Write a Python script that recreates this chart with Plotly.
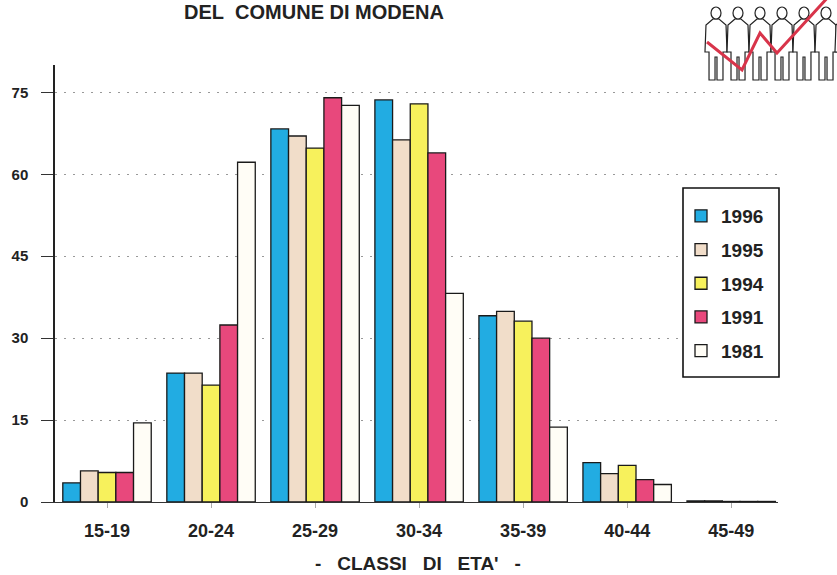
import plotly.graph_objects as go

# -- Dati (valori percentuali per classe di eta')
classi = ['15-19', '20-24', '25-29', '30-34', '35-39', '40-44', '45-49']
anni = ['1996', '1995', '1994', '1991', '1981']

v_1996 = [3.5, 23.6, 68.3, 73.6, 34.1, 7.2, 0.2]
v_1995 = [5.7, 23.6, 67.0, 66.3, 34.9, 5.2, 0.2]
v_1994 = [5.4, 21.4, 64.8, 72.9, 33.1, 6.7, 0.1]
v_1991 = [5.4, 32.4, 74.0, 63.9, 30.0, 4.1, 0.1]
v_1981 = [14.5, 62.2, 72.6, 38.2, 13.7, 3.2, 0.1]

serie = [v_1996, v_1995, v_1994, v_1991, v_1981]
colori = ['#22ACE2', '#F1DDC9', '#F7F15C', '#E8487C', '#FFFDF6']

ticks_y = [0, 15, 30, 45, 60, 75]

fuente = 'Liberation Sans, Arial, sans-serif'

W, H = 837, 575
# area del grafico in pixel: x 55-778, y 65-502
L, T = 55, 65
R, B = W - 778, H - 502
pw, ph = W - L - R, H - T - B


def px(x, y):
    # converte pixel della pagina in coordinate "paper"
    return (x - L) / pw, 1 - (y - T) / ph


def percorso(punti, chiuso=True):
    s = ''
    for i, (x, y) in enumerate(punti):
        a, b = px(x, y)
        s += ('M ' if i == 0 else ' L ') + f'{a:.4f},{b:.4f}'
    return s + (' Z' if chiuso else '')


fig = go.Figure()

for i, (anno, valori) in enumerate(zip(anni, serie)):
    fig.add_trace(go.Bar(x=classi, y=valori, name=anno,
                         marker=dict(color=colori[i], line=dict(color='#1a1a1a', width=1.3)),
                         legendgroup=anno))

tx, ty = px(314, 25)
ax_, ay_ = px(418, 563)
lx, ly = px(681, 197)

fig.update_layout(
    width=W, height=H,
    margin=dict(l=L, r=R, t=T, b=B),
    paper_bgcolor='white', plot_bgcolor='white',
    barmode='group', bargap=0.15, bargroupgap=0,
    font=dict(family=fuente, color='#222', size=13),
    showlegend=True,
    legend=dict(x=lx, y=ly, xanchor='left', yanchor='top',
                bgcolor='rgba(0,0,0,0)', borderwidth=0,
                font=dict(size=19, weight='bold', color='#222'),
                traceorder='grouped', tracegroupgap=6),
    annotations=[
        dict(text='DEL&nbsp;&nbsp;COMUNE DI MODENA', x=tx, y=ty,
             xref='paper', yref='paper', xanchor='center', yanchor='bottom', showarrow=False,
             font=dict(size=20, weight='bold', color='#222')),
        dict(text="-&nbsp;&nbsp;&nbsp;CLASSI&nbsp;&nbsp;&nbsp;DI&nbsp;&nbsp;&nbsp;ETA'&nbsp;&nbsp;&nbsp;-",
             x=ax_, y=ay_, xref='paper', yref='paper',
             xanchor='center', yanchor='middle', showarrow=False,
             font=dict(size=19, weight='bold', color='#222')),
    ],
)

fig.update_xaxes(showline=True, linecolor='#333', linewidth=1.2,
                 ticks='outside', ticklen=5, tickcolor='#aaa',
                 tickfont=dict(size=18, weight='bold'), ticklabelstandoff=7,
                 range=[-0.5, 6.45], showgrid=False, automargin=False)

fig.update_yaxes(range=[0, 80], tickvals=ticks_y, showline=True, linecolor='#222', linewidth=1.5,
                 ticks='outside', ticklen=12, tickcolor='#333', tickwidth=1,
                 tickfont=dict(size=15, weight='bold'), ticklabelstandoff=10,
                 showgrid=True, gridcolor='#999', griddash='2px,7px', gridwidth=1.2,
                 zeroline=False, automargin=False)

# cornice della legenda
x0, y0 = px(683, 377)
x1, y1 = px(779, 188)
fig.add_shape(type='rect', xref='paper', yref='paper', x0=x0, y0=y0, x1=x1, y1=y1,
              fillcolor='white', line=dict(color='#111', width=1.6), layer='above')

# logo decorativo in alto a destra: sagome di persone e linea rossa
for cx in [716, 738, 760, 782, 804, 826, 846]:
    corpo = [(cx - 3, 19), (cx - 10, 25), (cx - 11, 52), (cx - 7, 52), (cx - 7, 80),
             (cx - 1, 80), (cx - 1, 57), (cx + 1, 57), (cx + 1, 80), (cx + 7, 80),
             (cx + 7, 52), (cx + 11, 52), (cx + 10, 25), (cx + 3, 19)]
    fig.add_shape(type='path', xref='paper', yref='paper', path=percorso(corpo),
                  fillcolor='white', line=dict(color='#222', width=1.2))
    x0, y0 = px(cx - 5, 7)
    x1, y1 = px(cx + 5, 19)
    fig.add_shape(type='circle', xref='paper', yref='paper', x0=x0, y0=y0, x1=x1, y1=y1,
                  fillcolor='white', line=dict(color='#222', width=1.2))

fig.add_shape(type='path', xref='paper', yref='paper',
              path=percorso([(707, 42), (742, 70), (760, 33), (777, 53), (830, -5)], chiuso=False),
              line=dict(color='#D8344A', width=3))

# niente margine della pagina: la figura parte dall'angolo in alto a sinistra
fig.write_html('out.html', config={'displayModeBar': False},
               post_script="document.body.style.margin='0';document.body.style.overflow='hidden';")
